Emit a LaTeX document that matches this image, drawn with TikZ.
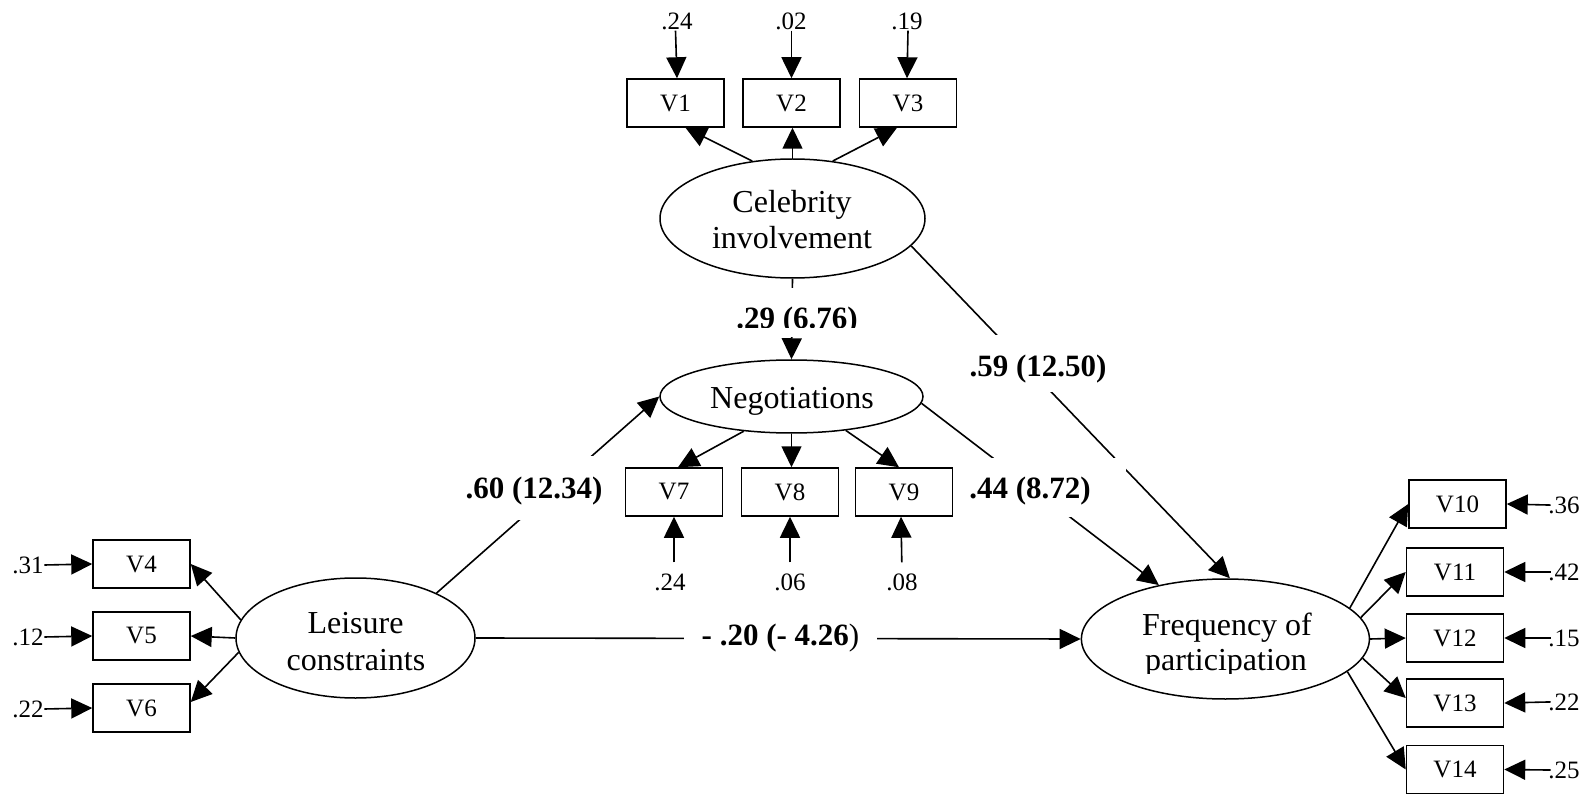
\documentclass[tikz,border=0pt]{standalone}
\usepackage{fontspec}
\setmainfont{Liberation Serif}
\usetikzlibrary{shapes.geometric,arrows.meta}

\tikzset{
  obs/.style={draw, line width=1.5pt, minimum width=97pt, minimum height=48pt,
    inner sep=0pt, font=\fontsize{25}{30}\selectfont},
  latent/.style={ellipse, draw, line width=1.5pt, inner sep=0pt},
  ltext/.style={inner sep=0pt, anchor=base, font=\fontsize{32}{36}\selectfont},
  err/.style={inner sep=0.5pt, font=\fontsize{25}{30}\selectfont},
  coef/.style={fill=white, inner ysep=0pt, inner xsep=3pt, anchor=base,
    font=\bfseries\fontsize{31}{36}\selectfont},
  arr/.style={-{Triangle[length=21pt,width=20pt]}, line width=1.6pt},
}

\begin{document}
\begin{tikzpicture}[x=1pt,y=-1pt]
\fill[white] (0,0) rectangle (1591,794);
\useasboundingbox (0,0) rectangle (1591,794);

% latent constructs
\node[latent, minimum width=265pt, minimum height=119pt] (cel) at (792.5,218.5) {};
\node[latent, minimum width=263pt, minimum height=73pt] (neg) at (791.5,396.5) {};
\node[latent, minimum width=239pt, minimum height=120pt] (leis) at (355.5,638) {};
\node[latent, minimum width=288pt, minimum height=120pt] (freq) at (1225.4,639) {};

\node[ltext] (celA) at (792,213) {Celebrity};
\node[ltext] (celB) at (792,249) {involvement};
\node[ltext] (negA) at (792,408) {Negotiations};
\node[ltext] (leisA) at (355.5,633) {Leisure};
\node[ltext] (leisB) at (356,670) {constraints};
\node[ltext] (freqA) at (1227,635) {Frequency of};
\node[ltext] (freqB) at (1226,670) {participation};
% lower edge of the second line is trimmed
\fill[white] (1140,673.5) rectangle (1312,680);

% indicators
\node[obs] (v1) at (675.5,103) {V1};
\node[obs] (v2) at (791.5,103) {V2};
\node[obs] (v3) at (908,103) {V3};
\node[obs] (v7) at (674,492) {V7};
\node[obs] (v8) at (790,492) {V8};
\node[obs] (v9) at (904,492) {V9};
\node[obs] (v4) at (141.5,564) {V4};
\node[obs] (v5) at (141.5,636) {V5};
\node[obs] (v6) at (141.5,708) {V6};
\node[obs] (v10) at (1457.5,504) {V10};
\node[obs] (v11) at (1455,572) {V11};
\node[obs] (v12) at (1455,638) {V12};
\node[obs] (v13) at (1455,703) {V13};
\node[obs] (v14) at (1455,769.5) {V14};

% error variances
\node[err] (e1) at (677,21.5) {.24};
\node[err] (e2) at (791,21.5) {.02};
\node[err] (e3) at (907,21.5) {.19};
\node[err] (e7) at (670,582.5) {.24};
\node[err] (e8) at (790,582.5) {.06};
\node[err] (e9) at (902,582.5) {.08};
\node[err] (e4) at (28,565) {.31};
\node[err] (e5) at (28,637) {.12};
\node[err] (e6) at (28,709) {.22};
\node[err] (e10) at (1564,505) {.36};
\node[err] (e11) at (1564,572) {.42};
\node[err] (e12) at (1564,638) {.15};
\node[err] (e13) at (1564,702) {.22};
\node[err] (e14) at (1564,770) {.25};

\draw[arr] (e1.south -| v1.north) -- (v1.north -| e1.south);
\draw[arr] (e2.south -| v2.north) -- (v2.north);
\draw[arr] (e3.south -| v3.north) -- (v3.north -| e3.south);
\draw[arr, shorten <=11pt] (e7.north -| v7.south) -- (v7.south);
\draw[arr, shorten <=11pt] (e8.north -| v8.south) -- (v8.south);
\draw[arr, shorten <=11pt] (e9.north) -- ([xshift=-3pt]v9.south);
\draw[arr] (e4.east) -- (v4.west);
\draw[arr] (e5.east) -- (v5.west);
\draw[arr] (e6.east) -- (v6.west);
\draw[arr, shorten <=-3pt] (e10.west) -- (v10.east);
\draw[arr, shorten <=-3pt] (e11.west) -- (v11.east);
\draw[arr, shorten <=-3pt] (e12.west) -- (v12.east);
\draw[arr, shorten <=-3pt] (e13.west) -- (v13.east);
\draw[arr, shorten <=-3pt] (e14.west) -- (v14.east);

% loadings
\draw[arr] (cel.125) -- ([xshift=10pt]v1.south);
\draw[arr] (cel.north) -- (cel.north |- v2.south);
\draw[arr] (cel.55) -- ([xshift=-11pt]v3.south);
\draw[arr] (neg.216) -- ([xshift=4pt]v7.north);
\draw[arr] (neg.south) -- (neg.south |- v8.north);
\draw[arr] (neg.328) -- ([xshift=-5pt]v9.north);
\draw[arr] (leis.171) -- (v4.east);
\draw[arr] (leis.west) -- (v5.east);
\draw[arr] (leis.187.4) -- ([yshift=6pt]v6.east);
\draw[arr] (freq.14) -- (v10.west);
\draw[arr] (freq.9.3) -- (v11.west);
\draw[arr] (freq.east) -- (v12.west);
\draw[arr] (freq.-8.8) -- ([yshift=5pt]v13.west);
\draw[arr] (freq.-15.4) -- (v14.west);

% structural paths
\draw[arr] (cel.south) -- (neg.north);
\draw[arr] (cel.-13.9) -- ([xshift=4.5pt]freq.north);
\draw[arr] (neg.357.6) -- (freq.141.8);
\draw[arr] (leis.29.5) -- (neg.west);
\draw[arr] (leis.east) -- (freq.west);

% path coefficients (t values)
\node[coef, text height=41pt, text depth=8pt] (c29) at (797,329) {.29 (6.76)};
\fill[white] (734,328) rectangle (861,337);
\node[coef, text height=42pt, text depth=22pt] (c60) at (534,498) {.60 (12.34)};
\node[coef, text height=42pt, text depth=15pt] (c59) at (1038,377) {.59 (12.50)};
\node[coef, inner xsep=1pt, text height=40pt, text depth=19pt] (c44) at (1047,498) {.44 (8.72)\rule{34pt}{0pt}};
\node[coef, inner xsep=18pt, text height=30pt, text depth=10pt] (c20) at (780.5,645) {- .20 (- 4.26\mdseries)};
\end{tikzpicture}
\end{document}
